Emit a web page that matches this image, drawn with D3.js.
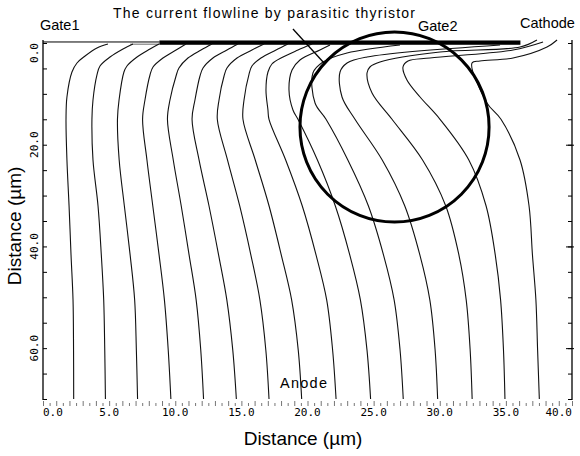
<!DOCTYPE html>
<html>
<head>
<meta charset="utf-8">
<script src="https://cdn.jsdelivr.net/npm/d3@7"></script>
<style>
  body { margin: 0; background: #fff; }
  svg { display: block; }
  text { font-family: "Liberation Sans", Arial, sans-serif; fill: #000; }
  .ticklab { font-family: "DejaVu Sans Mono", "Liberation Mono", monospace; font-size: 11px; }
</style>
</head>
<body>
<svg id="chart" width="580" height="456"></svg>
<script>
// Data (all in µm)
// ----------------
var xDomain = [0, 40];
var yDomain = [0, 70];
var xTickValues = [0, 5, 10, 15, 20, 25, 30, 35, 40];
var xTickLabels = ["0.0", "5.0", "10.0", "15.0", "20.0", "25.0", "30.0", "35.0", "40.0"];
var yTickValues = [0, 20, 40, 60];
var yTickLabels = ["0.0", "20.0", "40.0", "60.0"];

// depths where the lower part of every flowline was read
var depths = [15, 23, 32, 41.7, 50.5, 60.4, 70];

// x of each flowline at those depths
var lowerX = [
  [1.74, 1.81, 1.97, 2.12, 2.27, 2.31, 2.32],
  [3.70, 3.78, 4.16, 4.41, 4.59, 4.67, 4.72],
  [5.63, 5.76, 6.15, 6.59, 6.93, 7.06, 7.15],
  [7.53, 7.86, 8.30, 8.78, 9.18, 9.47, 9.67],
  [9.41, 9.85, 10.45, 11.05, 11.58, 11.93, 12.14],
  [11.27, 11.80, 12.55, 13.28, 13.90, 14.35, 14.62],
  [13.18, 13.95, 14.87, 15.72, 16.40, 16.85, 17.09],
  [15.12, 16.05, 17.09, 18.02, 18.80, 19.30, 19.56],
  [17.09, 18.35, 19.60, 20.65, 21.45, 21.90, 22.16],
  [19.28, 20.75, 22.10, 23.20, 24.00, 24.50, 24.77],
  [21.40, 23.05, 24.60, 25.75, 26.55, 27.00, 27.24],
  [23.59, 25.65, 27.35, 28.50, 29.25, 29.65, 29.84],
  [26.39, 28.70, 30.45, 31.45, 32.00, 32.30, 32.45],
  [30.02, 32.20, 33.50, 34.20, 34.60, 34.82, 34.93],
  [34.63, 36.07, 36.75, 37.01, 37.27, 37.40, 37.53]
];

// upper part of each flowline, [x, y] from the surface down
var upperPts = [
  [[4.91, 0.20], [4.08, 0.98], [3.18, 2.56], [2.57, 3.93], [2.19, 5.70], [1.81, 10.62]],
  [[6.80, 0.20], [6.05, 1.18], [5.07, 2.75], [4.31, 4.52], [4.08, 6.29], [3.78, 11.21]],
  [[8.77, 0.20], [8.09, 1.18], [7.11, 2.75], [6.35, 4.52], [6.12, 5.70], [5.75, 11.21]],
  [[10.81, 0.20], [10.06, 1.38], [9.07, 2.95], [8.32, 4.72], [8.09, 6.29], [7.71, 11.21]],
  [[12.78, 0.20], [11.95, 1.38], [10.96, 2.95], [10.28, 4.92], [10.06, 6.49], [9.60, 11.21]],
  [[14.74, 0.20], [13.91, 1.38], [12.85, 2.95], [12.10, 4.92], [11.87, 6.49], [11.49, 11.21]],
  [[16.71, 0.20], [15.80, 1.38], [14.67, 2.95], [13.91, 4.92], [13.69, 6.49], [13.31, 11.21]],
  [[18.52, 0.20], [17.62, 1.38], [16.48, 2.95], [15.80, 4.52], [15.58, 6.10], [15.20, 11.21]],
  [[20.34, 0.20], [19.28, 1.38], [18.15, 2.75], [17.31, 4.13], [17.01, 5.70], [16.86, 9.24], [17.01, 13.17]],
  [[21.70, 0.39], [20.94, 1.38], [19.43, 3.34], [18.83, 5.31], [18.60, 9.24], [18.90, 13.17]],
  [[26.99, 0.39], [22.99, 1.97], [21.17, 3.74], [20.41, 5.90], [20.57, 11.80]],
  [[34.56, 0.39], [24.50, 2.75], [22.99, 3.93], [22.46, 5.70], [22.61, 10.62]],
  [[37.35, -0.59], [36.07, 0.79], [30.02, 1.77], [25.48, 3.74], [24.72, 4.72], [24.50, 5.90], [24.88, 9.83]],
  [[37.81, -0.20], [35.54, 1.38], [29.26, 2.95], [27.60, 3.54], [27.22, 4.72], [27.52, 7.27], [28.51, 10.62]],
  [[38.87, -0.59], [38.11, 0.79], [35.54, 2.95], [33.04, 3.54], [32.44, 3.93], [33.57, 11.80]]
];

// surface contacts and annotation
var gate1Contact = [0, 8.8];
var electrode = [8.8, 36.1];
var ring = { cx: 26.58, cy: 16.52, rx: 7.15, ry: 18.68 };
var pointer = [[18.90, -2.75], [21.25, 3.93]];

// Scales
// ------
var svg = d3.select("#chart");
var xScale = d3.scaleLinear().domain(xDomain).range([43, 572]);
var yScale = d3.scaleLinear().domain(yDomain).range([43, 399]);

// Frame lines
// -----------
svg.append("line")
  .attr("x1", xScale(0)).attr("x2", xScale(0))
  .attr("y1", yScale(-0.6)).attr("y2", yScale(70.2))
  .attr("stroke", "#000").attr("stroke-width", 1.3);
svg.append("line")
  .attr("x1", xScale(40)).attr("x2", xScale(40))
  .attr("y1", yScale(-0.6)).attr("y2", yScale(70.2))
  .attr("stroke", "#000").attr("stroke-width", 1.3);

// Left ticks
var leftAxis = svg.append("g")
  .attr("transform", "translate(" + xScale(0) + ",0)")
  .call(d3.axisRight(yScale).tickValues(d3.range(0, 71, 5)).tickSize(4).tickSizeOuter(0).tickFormat(""));
leftAxis.select(".domain").remove();

// Right ticks
var rightAxis = svg.append("g")
  .attr("transform", "translate(" + xScale(40) + ",0)")
  .call(d3.axisLeft(yScale).tickValues(d3.range(0, 71, 5)).tickSize(4).tickSizeOuter(0).tickFormat(""));
rightAxis.select(".domain").remove();
var rightMajor = svg.append("g")
  .attr("transform", "translate(" + (xScale(40) + 2) + ",0)")
  .call(d3.axisLeft(yScale).tickValues([20, 40, 60]).tickSize(8).tickSizeOuter(0).tickFormat(""));
rightMajor.select(".domain").remove();

// Bottom ticks (dense, grey)
var bottomAxis = svg.append("g")
  .attr("transform", "translate(0,401)")
  .call(d3.axisBottom(xScale).tickValues(d3.range(0, 40.01, 0.5)).tickSize(5).tickSizeOuter(0).tickFormat(""));
bottomAxis.select(".domain").remove();
bottomAxis.selectAll("line").attr("stroke", "#666").attr("stroke-width", 0.9)
  .attr("y1", function(d, i) { return i % 2 ? 2 : 0; });

// Tick labels
svg.selectAll(".xlab")
  .data(xTickValues)
  .enter().append("text")
  .attr("class", "ticklab")
  .attr("x", function(d) { return xScale(d); })
  .attr("y", 416)
  .attr("text-anchor", function(d, i) { return i === 0 ? "start" : (i === xTickValues.length - 1 ? "end" : "middle"); })
  .text(function(d, i) { return xTickLabels[i]; });

svg.selectAll(".ylab")
  .data(yTickValues)
  .enter().append("text")
  .attr("class", "ticklab")
  .attr("transform", function(d) { return "translate(38," + yScale(d) + ") rotate(-90)"; })
  .attr("text-anchor", function(d, i) { return i === 0 ? "end" : "middle"; })
  .text(function(d, i) { return yTickLabels[i]; });

// Surface contacts
// ----------------
svg.append("line")
  .attr("x1", xScale(gate1Contact[0])).attr("x2", xScale(gate1Contact[1]))
  .attr("y1", yScale(-0.2)).attr("y2", yScale(-0.2))
  .attr("stroke", "#000").attr("stroke-width", 1);
svg.append("line")
  .attr("x1", xScale(6.6)).attr("x2", xScale(gate1Contact[1]))
  .attr("y1", yScale(0.25)).attr("y2", yScale(0.25))
  .attr("stroke", "#999").attr("stroke-width", 1.5);
svg.append("rect")
  .attr("x", xScale(electrode[0]))
  .attr("y", yScale(-0.5))
  .attr("width", xScale(electrode[1]) - xScale(electrode[0]))
  .attr("height", yScale(0.35) - yScale(-0.5))
  .attr("fill", "#000");

// Flowlines
// ---------
var flowlines = upperPts.map(function(pts, i) {
  return pts.concat(depths.map(function(d, j) { return [lowerX[i][j], d]; }));
});

var line = d3.line()
  .x(function(d) { return xScale(d[0]); })
  .y(function(d) { return yScale(d[1]); })
  .curve(d3.curveCatmullRom.alpha(0.5));

svg.selectAll(".flow")
  .data(flowlines)
  .enter().append("path")
  .attr("class", "flow")
  .attr("d", line)
  .attr("fill", "none")
  .attr("stroke", "#111")
  .attr("stroke-width", 1.1);

// Annotation
// ----------
svg.append("ellipse")
  .attr("cx", xScale(ring.cx))
  .attr("cy", yScale(ring.cy))
  .attr("rx", xScale(ring.rx) - xScale(0))
  .attr("ry", yScale(ring.ry) - yScale(0))
  .attr("fill", "none")
  .attr("stroke", "#000")
  .attr("stroke-width", 3);

svg.append("line")
  .attr("x1", xScale(pointer[0][0])).attr("y1", yScale(pointer[0][1]))
  .attr("x2", xScale(pointer[1][0])).attr("y2", yScale(pointer[1][1]))
  .attr("stroke", "#000").attr("stroke-width", 1.3);

svg.append("text").attr("x", 113).attr("y", 18)
  .attr("font-size", 14).attr("textLength", 302).attr("lengthAdjust", "spacing")
  .text("The current flowline by parasitic thyristor");
svg.append("text").attr("x", 40).attr("y", 30).attr("font-size", 14.5).text("Gate1");
svg.append("text").attr("x", 418).attr("y", 31).attr("font-size", 14.5).text("Gate2");
svg.append("text").attr("x", 520).attr("y", 28).attr("font-size", 14.5).text("Cathode");
svg.append("text").attr("x", 280).attr("y", 388).attr("font-size", 14.5)
  .attr("textLength", 47).attr("lengthAdjust", "spacing").text("Anode");

// Axis titles
// -----------
svg.append("text")
  .attr("x", 303).attr("y", 445)
  .attr("text-anchor", "middle")
  .attr("font-size", 19)
  .text("Distance (µm)");
svg.append("text")
  .attr("transform", "translate(21,226) rotate(-90)")
  .attr("text-anchor", "middle")
  .attr("font-size", 19)
  .text("Distance (µm)");
</script>
</body>
</html>
